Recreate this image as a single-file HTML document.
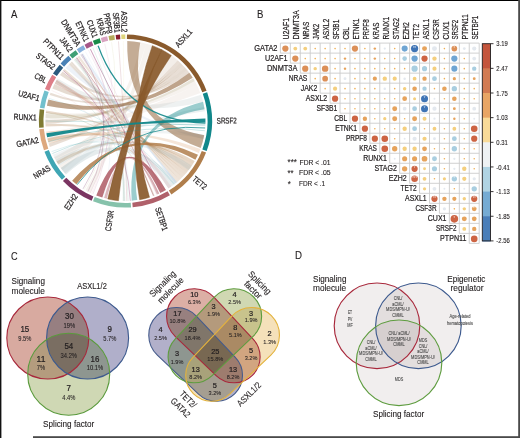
<!DOCTYPE html><html><head><meta charset="utf-8"><style>html,body{margin:0;padding:0;background:#fff;width:520px;height:438px;overflow:hidden}</style></head><body><svg width="520" height="438" viewBox="0 0 520 438" style="display:block">
<rect x="0" y="0" width="520" height="438" fill="#ffffff"/>
<g font-family="&quot;Liberation Sans&quot;, sans-serif">
<text transform="translate(11.00,17.50)" x="0.00" y="0" font-size="11.6" textLength="6.40" lengthAdjust="spacingAndGlyphs" fill="#231f20" stroke="#231f20" stroke-width="0.12" >A</text>
<text transform="translate(256.90,17.80)" x="0.00" y="0" font-size="11.6" textLength="6.40" lengthAdjust="spacingAndGlyphs" fill="#231f20" stroke="#231f20" stroke-width="0.12" >B</text>
<text transform="translate(10.90,259.80)" x="0.00" y="0" font-size="11.6" textLength="6.60" lengthAdjust="spacingAndGlyphs" fill="#231f20" stroke="#231f20" stroke-width="0.12" >C</text>
<text transform="translate(295.00,259.40)" x="0.00" y="0" font-size="11.6" textLength="7.00" lengthAdjust="spacingAndGlyphs" fill="#231f20" stroke="#231f20" stroke-width="0.12" >D</text>
<path d="M140.71,42.47 A80.0,80.0 0 0 1 146.16,43.73 Q125.45,121.00 62.41,170.25 A80.0,80.0 0 0 1 59.13,165.74 Q125.45,121.00 140.71,42.47 Z" fill="#8A5A2C" fill-opacity="0.08"/>
<path d="M146.16,43.73 A80.0,80.0 0 0 1 151.89,45.50 Q125.45,121.00 90.38,192.90 A80.0,80.0 0 0 1 85.45,190.28 Q125.45,121.00 146.16,43.73 Z" fill="#8A5A2C" fill-opacity="0.08"/>
<path d="M171.91,55.87 A80.0,80.0 0 0 1 177.41,60.17 Q125.45,121.00 57.61,163.39 A80.0,80.0 0 0 1 54.17,157.32 Q125.45,121.00 171.91,55.87 Z" fill="#8A5A2C" fill-opacity="0.1"/>
<path d="M177.62,60.35 A80.0,80.0 0 0 1 180.01,62.49 Q125.45,121.00 49.81,147.05 A80.0,80.0 0 0 1 48.74,143.72 Q125.45,121.00 177.62,60.35 Z" fill="#8A5A2C" fill-opacity="0.2"/>
<path d="M180.01,62.49 A80.0,80.0 0 0 1 182.51,64.93 Q125.45,121.00 45.50,123.79 A80.0,80.0 0 0 1 45.46,119.60 Q125.45,121.00 180.01,62.49 Z" fill="#8A5A2C" fill-opacity="0.22"/>
<path d="M182.51,64.93 A80.0,80.0 0 0 1 184.90,67.47 Q125.45,121.00 49.81,94.95 A80.0,80.0 0 0 1 50.57,92.85 Q125.45,121.00 182.51,64.93 Z" fill="#8A5A2C" fill-opacity="0.2"/>
<path d="M184.90,67.47 A80.0,80.0 0 0 1 187.18,70.11 Q125.45,121.00 52.37,88.46 A80.0,80.0 0 0 1 54.49,84.06 Q125.45,121.00 184.90,67.47 Z" fill="#8A5A2C" fill-opacity="0.22"/>
<path d="M187.18,70.11 A80.0,80.0 0 0 1 189.34,72.85 Q125.45,121.00 59.92,75.11 A80.0,80.0 0 0 1 62.41,71.75 Q125.45,121.00 187.18,70.11 Z" fill="#8A5A2C" fill-opacity="0.2"/>
<path d="M193.07,78.25 A80.0,80.0 0 0 1 196.73,84.68 Q125.45,121.00 45.50,118.21 A80.0,80.0 0 0 1 45.96,111.94 Q125.45,121.00 193.07,78.25 Z" fill="#8A5A2C" fill-opacity="0.08"/>
<path d="M196.73,84.68 A80.0,80.0 0 0 1 200.38,92.98 Q125.45,121.00 47.83,140.35 A80.0,80.0 0 0 1 46.23,132.13 Q125.45,121.00 196.73,84.68 Z" fill="#8A5A2C" fill-opacity="0.07"/>
<path d="M194.73,161.00 A80.0,80.0 0 0 1 192.92,163.98 Q125.45,121.00 58.36,164.57 A80.0,80.0 0 0 1 56.52,161.60 Q125.45,121.00 194.73,161.00 Z" fill="#B07E4C" fill-opacity="0.32"/>
<path d="M192.92,163.98 A80.0,80.0 0 0 1 190.98,166.89 Q125.45,121.00 48.18,141.71 A80.0,80.0 0 0 1 47.35,138.32 Q125.45,121.00 192.92,163.98 Z" fill="#B07E4C" fill-opacity="0.3"/>
<path d="M190.98,166.89 A80.0,80.0 0 0 1 188.92,169.70 Q125.45,121.00 45.64,126.58 A80.0,80.0 0 0 1 45.50,123.79 Q125.45,121.00 190.98,166.89 Z" fill="#B07E4C" fill-opacity="0.3"/>
<path d="M188.92,169.70 A80.0,80.0 0 0 1 186.73,172.42 Q125.45,121.00 45.89,112.64 A80.0,80.0 0 0 1 46.15,110.42 Q125.45,121.00 188.92,169.70 Z" fill="#B07E4C" fill-opacity="0.28"/>
<path d="M186.73,172.42 A80.0,80.0 0 0 1 184.43,175.05 Q125.45,121.00 54.81,83.44 A80.0,80.0 0 0 1 56.88,79.80 Q125.45,121.00 186.73,172.42 Z" fill="#B07E4C" fill-opacity="0.26"/>
<path d="M184.43,175.05 A80.0,80.0 0 0 1 182.02,177.57 Q125.45,121.00 63.28,70.65 A80.0,80.0 0 0 1 64.62,69.04 Q125.45,121.00 184.43,175.05 Z" fill="#B07E4C" fill-opacity="0.24"/>
<path d="M182.02,177.57 A80.0,80.0 0 0 1 179.50,179.98 Q125.45,121.00 68.88,64.43 A80.0,80.0 0 0 1 71.92,61.55 Q125.45,121.00 182.02,177.57 Z" fill="#B07E4C" fill-opacity="0.22"/>
<path d="M179.50,179.98 A80.0,80.0 0 0 1 176.87,182.28 Q125.45,121.00 77.30,57.11 A80.0,80.0 0 0 1 79.34,55.63 Q125.45,121.00 179.50,179.98 Z" fill="#B07E4C" fill-opacity="0.2"/>
<path d="M176.87,182.28 A80.0,80.0 0 0 1 168.43,188.47 Q125.45,121.00 66.00,174.53 A80.0,80.0 0 0 1 60.73,168.02 Q125.45,121.00 176.87,182.28 Z" fill="#b8c8cc" fill-opacity="0.35"/>
<path d="M59.13,165.74 A80.0,80.0 0 0 1 55.48,159.78 Q125.45,121.00 191.77,165.74 A80.0,80.0 0 0 1 188.49,170.25 Q125.45,121.00 59.13,165.74 Z" fill="#9fb9bf" fill-opacity="0.22"/>
<path d="M65.07,173.48 A80.0,80.0 0 0 1 60.73,168.02 Q125.45,121.00 204.23,107.11 A80.0,80.0 0 0 1 204.85,111.25 Q125.45,121.00 65.07,173.48 Z" fill="#9fb9bf" fill-opacity="0.2"/>
<path d="M55.14,159.17 A80.0,80.0 0 0 1 52.95,154.81 Q125.45,121.00 204.23,134.89 A80.0,80.0 0 0 1 203.40,139.00 Q125.45,121.00 55.14,159.17 Z" fill="#b5c3c6" fill-opacity="0.2"/>
<path d="M201.00,94.69 A80.0,80.0 0 0 1 203.07,101.65 Q125.45,121.00 54.81,83.44 A80.0,80.0 0 0 1 57.61,78.61 Q125.45,121.00 201.00,94.69 Z" fill="#aab8bb" fill-opacity="0.2"/>
<path d="M48.74,143.72 A80.0,80.0 0 0 1 47.50,139.00 Q125.45,121.00 200.38,149.02 A80.0,80.0 0 0 1 198.81,152.90 Q125.45,121.00 48.74,143.72 Z" fill="#DDA87E" fill-opacity="0.3"/>
<path d="M45.50,118.21 A80.0,80.0 0 0 1 45.75,114.03 Q125.45,121.00 193.29,78.61 A80.0,80.0 0 0 1 194.73,81.00 Q125.45,121.00 45.50,118.21 Z" fill="#7F7B33" fill-opacity="0.12"/>
<path d="M54.49,84.06 A80.0,80.0 0 0 1 56.88,79.80 Q125.45,121.00 171.34,186.53 A80.0,80.0 0 0 1 168.43,188.47 Q125.45,121.00 54.49,84.06 Z" fill="#DE7E88" fill-opacity="0.15"/>
<path d="M65.53,67.99 A80.0,80.0 0 0 1 68.88,64.43 Q125.45,121.00 204.23,134.89 A80.0,80.0 0 0 1 203.40,139.00 Q125.45,121.00 65.53,67.99 Z" fill="#4A82B6" fill-opacity="0.1"/>
<path d="M73.71,59.99 A80.0,80.0 0 0 1 76.20,57.96 Q125.45,121.00 125.45,201.00 A80.0,80.0 0 0 1 122.66,200.95 Q125.45,121.00 73.71,59.99 Z" fill="#3F9F76" fill-opacity="0.12"/>
<path d="M80.48,54.83 A80.0,80.0 0 0 1 83.06,53.16 Q125.45,121.00 176.87,182.28 A80.0,80.0 0 0 1 175.25,183.61 Q125.45,121.00 80.48,54.83 Z" fill="#86B0DC" fill-opacity="0.2"/>
<path d="M76.75,57.53 Q125.45,121.00 153.47,195.93" fill="none" stroke="#B0606A" stroke-opacity="0.6" stroke-width="0.8"/>
<path d="M90.38,49.10 Q125.45,121.00 163.01,191.64" fill="none" stroke="#A65788" stroke-opacity="0.6" stroke-width="0.8"/>
<path d="M63.28,70.65 Q125.45,121.00 130.33,200.85" fill="none" stroke="#A65788" stroke-opacity="0.5" stroke-width="0.8"/>
<path d="M88.51,50.04 Q125.45,121.00 124.05,200.99" fill="none" stroke="#A65788" stroke-opacity="0.15" stroke-width="0.7"/>
<path d="M56.17,81.00 Q125.45,121.00 165.45,190.28" fill="none" stroke="#DE7E88" stroke-opacity="0.2" stroke-width="0.7"/>
<path d="M51.54,90.39 Q125.45,121.00 91.64,193.50" fill="none" stroke="#DE7E88" stroke-opacity="0.15" stroke-width="0.7"/>
<path d="M69.88,63.45 Q125.45,121.00 176.87,182.28" fill="none" stroke="#4A82B6" stroke-opacity="0.12" stroke-width="0.7"/>
<path d="M71.40,62.02 Q125.45,121.00 103.40,197.90" fill="none" stroke="#4A82B6" stroke-opacity="0.1" stroke-width="0.7"/>
<path d="M104.74,43.73 Q125.45,121.00 90.38,192.90" fill="none" stroke="#D9A3C1" stroke-opacity="0.3" stroke-width="0.7"/>
<path d="M111.56,42.22 Q125.45,121.00 84.25,189.57" fill="none" stroke="#B5AD5C" stroke-opacity="0.15" stroke-width="0.7"/>
<path d="M118.48,41.30 Q125.45,121.00 126.85,200.99" fill="none" stroke="#8A1F2F" stroke-opacity="0.2" stroke-width="0.7"/>
<path d="M123.36,41.03 Q125.45,121.00 115.70,200.40" fill="none" stroke="#DED57C" stroke-opacity="0.15" stroke-width="0.7"/>
<path d="M46.23,132.13 Q125.45,121.00 164.84,190.63" fill="none" stroke="#DDA87E" stroke-opacity="0.5" stroke-width="0.8"/>
<path d="M45.89,112.64 Q125.45,121.00 154.12,195.69" fill="none" stroke="#7F7B33" stroke-opacity="0.25" stroke-width="0.7"/>
<path d="M48.74,98.28 Q125.45,121.00 174.70,184.04" fill="none" stroke="#72C0CD" stroke-opacity="0.3" stroke-width="0.7"/>
<path d="M51.54,151.61 Q125.45,121.00 174.15,184.47" fill="none" stroke="#3FA6B4" stroke-opacity="0.25" stroke-width="0.7"/>
<path d="M92.91,194.08 Q125.45,121.00 90.38,49.10" fill="none" stroke="#A65788" stroke-opacity="0.2" stroke-width="0.7"/>
<path d="M87.89,191.64 Q125.45,121.00 76.20,57.96" fill="none" stroke="#7B3562" stroke-opacity="0.35" stroke-width="0.7"/>
<path d="M83.06,188.84 Q125.45,121.00 81.88,53.91" fill="none" stroke="#7B3562" stroke-opacity="0.35" stroke-width="0.7"/>
<path d="M128.24,200.95 Q125.45,121.00 92.91,47.92" fill="none" stroke="#86C2AB" stroke-opacity="0.3" stroke-width="0.7"/>
<path d="M124.05,200.99 Q125.45,121.00 56.17,81.00" fill="none" stroke="#86C2AB" stroke-opacity="0.25" stroke-width="0.7"/>
<path d="M158.63,193.80 Q125.45,121.00 80.71,54.68" fill="none" stroke="#B0606A" stroke-opacity="0.3" stroke-width="0.7"/>
<path d="M156.71,194.64 Q125.45,121.00 75.10,58.83" fill="none" stroke="#B0606A" stroke-opacity="0.2" stroke-width="0.7"/>
<path d="M154.12,195.69 Q125.45,121.00 62.41,71.75" fill="none" stroke="#B0606A" stroke-opacity="0.2" stroke-width="0.7"/>
<path d="M85.45,51.72 Q125.45,121.00 131.03,200.81" fill="none" stroke="#86B0DC" stroke-opacity="0.1" stroke-width="0.7"/>
<path d="M96.13,46.57 Q125.45,121.00 165.45,190.28" fill="none" stroke="#A65788" stroke-opacity="0.15" stroke-width="0.7"/>
<path d="M203.07,101.65 A80.0,80.0 0 0 1 204.57,109.18 Q125.45,121.00 137.27,200.12 A80.0,80.0 0 0 1 131.73,200.75 Q125.45,121.00 203.07,101.65 Z" fill="#11878A" fill-opacity="0.42"/>
<path d="M127.26,41.02 A80.0,80.0 0 0 1 140.30,42.39 Q125.45,121.00 204.19,135.17 A80.0,80.0 0 0 1 200.72,148.10 Q125.45,121.00 127.26,41.02 Z" fill="#8A5A2C" fill-opacity="0.5"/>
<path d="M189.34,72.85 A80.0,80.0 0 0 1 192.70,77.66 Q125.45,121.00 46.92,105.74 A80.0,80.0 0 0 1 48.36,99.62 Q125.45,121.00 189.34,72.85 Z" fill="#8A5A2C" fill-opacity="0.55"/>
<path d="M76.42,184.21 A80.0,80.0 0 0 1 72.13,180.64 Q125.45,121.00 197.95,154.81 A80.0,80.0 0 0 1 195.42,159.78 Q125.45,121.00 76.42,184.21 Z" fill="#B07E4C" fill-opacity="0.85"/>
<path d="M165.93,190.00 A80.0,80.0 0 0 1 160.27,193.03 Q125.45,121.00 102.33,197.59 A80.0,80.0 0 0 1 96.26,195.48 Q125.45,121.00 165.93,190.00 Z" fill="#B0606A" fill-opacity="0.88"/>
<path d="M159.26,193.50 A80.0,80.0 0 0 1 156.97,194.53 Q125.45,121.00 106.77,198.79 A80.0,80.0 0 0 1 104.07,198.09 Q125.45,121.00 159.26,193.50 Z" fill="#B0606A" fill-opacity="0.45"/>
<path d="M98.09,45.82 Q125.45,121.00 205.42,123.09" fill="none" stroke="#11878A" stroke-opacity="0.9" stroke-width="1.25"/>
<path d="M152.29,45.64 A80.0,80.0 0 0 1 162.02,49.85 Q125.45,121.00 149.51,197.30 A80.0,80.0 0 0 1 139.62,199.74 Q125.45,121.00 152.29,45.64 Z" fill="#8A5A2C" fill-opacity="0.93" stroke="#83562B" stroke-width="0.5" stroke-opacity="0.9"/>
<path d="M161.77,49.72 A80.0,80.0 0 0 1 171.34,55.47 Q125.45,121.00 118.48,200.70 A80.0,80.0 0 0 1 107.73,199.01 Q125.45,121.00 161.77,49.72 Z" fill="#8A5A2C" fill-opacity="0.93" stroke="#83562B" stroke-width="0.5" stroke-opacity="0.9"/>
<path d="M47.14,137.36 A80.0,80.0 0 0 1 46.39,133.24 Q125.45,121.00 205.41,118.49 A80.0,80.0 0 0 1 205.44,122.40 Q125.45,121.00 47.14,137.36 Z" fill="#11878A" fill-opacity="0.95"/>
<path d="M52.37,153.54 Q125.45,121.00 204.85,130.75" fill="none" stroke="#11878A" stroke-opacity="0.3" stroke-width="0.7"/>
<path d="M77.08,184.72 Q125.45,121.00 205.15,127.97" fill="none" stroke="#11878A" stroke-opacity="0.85" stroke-width="0.9"/>
<path d="M205.37,124.49 Q125.45,121.00 48.18,141.71" fill="none" stroke="#11878A" stroke-opacity="0.35" stroke-width="0.6"/>
<path d="M205.32,125.61 Q125.45,121.00 45.45,121.00" fill="none" stroke="#11878A" stroke-opacity="0.3" stroke-width="0.6"/>
<path d="M126.96,34.41 A86.6,86.6 0 0 1 206.57,90.67 L202.26,92.28 A82.0,82.0 0 0 0 126.88,39.01 Z" fill="#8A5A2C"/>
<path d="M207.13,92.23 A86.6,86.6 0 0 1 206.67,151.04 L202.36,149.45 A82.0,82.0 0 0 0 202.79,93.76 Z" fill="#11878A"/>
<path d="M206.08,152.60 A86.6,86.6 0 0 1 171.34,194.44 L168.90,190.54 A82.0,82.0 0 0 0 201.80,150.92 Z" fill="#B07E4C"/>
<path d="M169.92,195.31 A86.6,86.6 0 0 1 132.70,207.30 L132.31,202.71 A82.0,82.0 0 0 0 167.56,191.36 Z" fill="#B0606A"/>
<path d="M131.04,207.42 A86.6,86.6 0 0 1 93.01,201.29 L94.73,197.03 A82.0,82.0 0 0 0 130.74,202.83 Z" fill="#86C2AB"/>
<path d="M91.61,200.72 A86.6,86.6 0 0 1 62.95,180.94 L66.27,177.76 A82.0,82.0 0 0 0 93.41,196.48 Z" fill="#7B3562"/>
<path d="M61.91,179.84 A86.6,86.6 0 0 1 44.49,151.75 L48.79,150.12 A82.0,82.0 0 0 0 65.28,176.71 Z" fill="#3FA6B4"/>
<path d="M43.97,150.33 A86.6,86.6 0 0 1 39.23,129.15 L43.81,128.72 A82.0,82.0 0 0 0 48.30,148.78 Z" fill="#DDA87E"/>
<path d="M39.12,127.79 A86.6,86.6 0 0 1 39.65,109.25 L44.21,109.87 A82.0,82.0 0 0 0 43.70,127.43 Z" fill="#7F7B33"/>
<path d="M39.87,107.75 A86.6,86.6 0 0 1 44.44,90.39 L48.74,92.02 A82.0,82.0 0 0 0 44.42,108.46 Z" fill="#72C0CD"/>
<path d="M44.99,88.98 A86.6,86.6 0 0 1 52.25,74.73 L56.14,77.18 A82.0,82.0 0 0 0 49.26,90.68 Z" fill="#DE7E88"/>
<path d="M52.99,73.58 A86.6,86.6 0 0 1 59.70,64.64 L63.19,67.64 A82.0,82.0 0 0 0 56.84,76.10 Z" fill="#2B5A7E"/>
<path d="M60.59,63.62 A86.6,86.6 0 0 1 68.41,55.84 L71.44,59.30 A82.0,82.0 0 0 0 64.04,66.67 Z" fill="#4A82B6"/>
<path d="M69.44,54.95 A86.6,86.6 0 0 1 75.65,50.15 L78.30,53.91 A82.0,82.0 0 0 0 72.41,58.46 Z" fill="#3F9F76"/>
<path d="M76.77,49.37 A86.6,86.6 0 0 1 83.33,45.33 L85.57,49.35 A82.0,82.0 0 0 0 79.36,53.18 Z" fill="#86B0DC"/>
<path d="M84.53,44.68 A86.6,86.6 0 0 1 91.61,41.28 L93.41,45.52 A82.0,82.0 0 0 0 86.70,48.73 Z" fill="#A65788"/>
<path d="M92.87,40.76 A86.6,86.6 0 0 1 99.70,38.32 L101.07,42.71 A82.0,82.0 0 0 0 94.60,45.02 Z" fill="#1A8A48"/>
<path d="M100.85,37.97 A86.6,86.6 0 0 1 107.15,36.36 L108.12,40.85 A82.0,82.0 0 0 0 102.16,42.38 Z" fill="#D9A3C1"/>
<path d="M108.48,36.08 A86.6,86.6 0 0 1 114.30,35.12 L114.89,39.68 A82.0,82.0 0 0 0 109.38,40.59 Z" fill="#B5AD5C"/>
<path d="M115.65,34.96 A86.6,86.6 0 0 1 120.01,34.57 L120.30,39.16 A82.0,82.0 0 0 0 116.17,39.53 Z" fill="#8A1F2F"/>
<path d="M121.22,34.50 A86.6,86.6 0 0 1 125.30,34.40 L125.31,39.00 A82.0,82.0 0 0 0 121.44,39.10 Z" fill="#DED57C"/>
<text transform="translate(178.81,47.96) rotate(-48.25)" x="0.00" y="0" font-size="8.4" textLength="21.02" lengthAdjust="spacingAndGlyphs" fill="#231f20" stroke="#231f20" stroke-width="0.24" >ASXL1</text>
<text transform="translate(216.76,123.63) rotate(-0.25)" x="0.00" y="0" font-size="8.4" textLength="19.94" lengthAdjust="spacingAndGlyphs" fill="#231f20" stroke="#231f20" stroke-width="0.24" >SRSF2</text>
<text transform="translate(191.84,180.05) rotate(39.70)" x="0.00" y="0" font-size="8.4" textLength="15.79" lengthAdjust="spacingAndGlyphs" fill="#231f20" stroke="#231f20" stroke-width="0.24" >TET2</text>
<text transform="translate(154.98,208.39) rotate(71.45)" x="0.00" y="0" font-size="8.4" textLength="24.25" lengthAdjust="spacingAndGlyphs" fill="#231f20" stroke="#231f20" stroke-width="0.24" >SETBP1</text>
<text transform="translate(114.00,211.13) rotate(-80.85)" x="-20.63" y="0" font-size="8.4" textLength="20.63" lengthAdjust="spacingAndGlyphs" fill="#231f20" stroke="#231f20" stroke-width="0.24" >CSF3R</text>
<text transform="translate(78.17,196.23) rotate(-55.90)" x="-17.46" y="0" font-size="8.4" textLength="17.46" lengthAdjust="spacingAndGlyphs" fill="#231f20" stroke="#231f20" stroke-width="0.24" >EZH2</text>
<text transform="translate(51.15,169.72) rotate(-31.30)" x="-18.18" y="0" font-size="8.4" textLength="18.18" lengthAdjust="spacingAndGlyphs" fill="#231f20" stroke="#231f20" stroke-width="0.24" >NRAS</text>
<text transform="translate(39.26,142.57) rotate(-12.10)" x="-22.75" y="0" font-size="8.4" textLength="22.75" lengthAdjust="spacingAndGlyphs" fill="#231f20" stroke="#231f20" stroke-width="0.24" >GATA2</text>
<text transform="translate(36.60,120.46) rotate(2.30)" x="-23.12" y="0" font-size="8.4" textLength="23.12" lengthAdjust="spacingAndGlyphs" fill="#231f20" stroke="#231f20" stroke-width="0.24" >RUNX1</text>
<text transform="translate(38.81,101.32) rotate(14.75)" x="-21.90" y="0" font-size="8.4" textLength="21.90" lengthAdjust="spacingAndGlyphs" fill="#231f20" stroke="#231f20" stroke-width="0.24" >U2AF1</text>
<text transform="translate(44.96,83.38) rotate(27.00)" x="-12.59" y="0" font-size="8.4" textLength="12.59" lengthAdjust="spacingAndGlyphs" fill="#231f20" stroke="#231f20" stroke-width="0.24" >CBL</text>
<text transform="translate(52.62,70.10) rotate(36.90)" x="-21.81" y="0" font-size="8.4" textLength="21.81" lengthAdjust="spacingAndGlyphs" fill="#231f20" stroke="#231f20" stroke-width="0.24" >STAG2</text>
<text transform="translate(60.68,60.18) rotate(45.15)" x="-25.64" y="0" font-size="8.4" textLength="25.64" lengthAdjust="spacingAndGlyphs" fill="#231f20" stroke="#231f20" stroke-width="0.24" >PTPN11</text>
<text transform="translate(68.75,52.59) rotate(52.30)" x="-16.09" y="0" font-size="8.4" textLength="16.09" lengthAdjust="spacingAndGlyphs" fill="#231f20" stroke="#231f20" stroke-width="0.24" >JAK2</text>
<text transform="translate(76.28,46.99) rotate(58.35)" x="-29.62" y="0" font-size="8.4" textLength="29.62" lengthAdjust="spacingAndGlyphs" fill="#231f20" stroke="#231f20" stroke-width="0.24" >DNMT3A</text>
<text transform="translate(84.35,42.22) rotate(64.40)" x="-21.35" y="0" font-size="8.4" textLength="21.35" lengthAdjust="spacingAndGlyphs" fill="#231f20" stroke="#231f20" stroke-width="0.24" >ETNK1</text>
<text transform="translate(92.67,38.42) rotate(70.30)" x="-18.26" y="0" font-size="8.4" textLength="18.26" lengthAdjust="spacingAndGlyphs" fill="#231f20" stroke="#231f20" stroke-width="0.24" >CUX1</text>
<text transform="translate(100.51,35.72) rotate(75.65)" x="-17.26" y="0" font-size="8.4" textLength="17.26" lengthAdjust="spacingAndGlyphs" fill="#231f20" stroke="#231f20" stroke-width="0.24" >KRAS</text>
<text transform="translate(106.98,34.09) rotate(79.95)" x="-20.56" y="0" font-size="8.4" textLength="20.56" lengthAdjust="spacingAndGlyphs" fill="#231f20" stroke="#231f20" stroke-width="0.24" >PRPF8</text>
<text transform="translate(114.62,32.81) rotate(84.95)" x="-20.13" y="0" font-size="8.4" textLength="20.13" lengthAdjust="spacingAndGlyphs" fill="#231f20" stroke="#231f20" stroke-width="0.24" >SF3B1</text>
<text transform="translate(121.42,32.24) rotate(89.35)" x="-21.02" y="0" font-size="8.4" textLength="21.02" lengthAdjust="spacingAndGlyphs" fill="#231f20" stroke="#231f20" stroke-width="0.24" >ASXL2</text>
<line x1="280.40" y1="43.10" x2="479.20" y2="43.10" stroke="#cccccc" stroke-width="0.9"/>
<line x1="280.40" y1="53.12" x2="479.20" y2="53.12" stroke="#cccccc" stroke-width="0.9"/>
<line x1="290.34" y1="63.13" x2="479.20" y2="63.13" stroke="#cccccc" stroke-width="0.9"/>
<line x1="300.28" y1="73.15" x2="479.20" y2="73.15" stroke="#cccccc" stroke-width="0.9"/>
<line x1="310.22" y1="83.16" x2="479.20" y2="83.16" stroke="#cccccc" stroke-width="0.9"/>
<line x1="320.16" y1="93.18" x2="479.20" y2="93.18" stroke="#cccccc" stroke-width="0.9"/>
<line x1="330.10" y1="103.19" x2="479.20" y2="103.19" stroke="#cccccc" stroke-width="0.9"/>
<line x1="340.04" y1="113.21" x2="479.20" y2="113.21" stroke="#cccccc" stroke-width="0.9"/>
<line x1="349.98" y1="123.22" x2="479.20" y2="123.22" stroke="#cccccc" stroke-width="0.9"/>
<line x1="359.92" y1="133.24" x2="479.20" y2="133.24" stroke="#cccccc" stroke-width="0.9"/>
<line x1="369.86" y1="143.25" x2="479.20" y2="143.25" stroke="#cccccc" stroke-width="0.9"/>
<line x1="379.80" y1="153.27" x2="479.20" y2="153.27" stroke="#cccccc" stroke-width="0.9"/>
<line x1="389.74" y1="163.28" x2="479.20" y2="163.28" stroke="#cccccc" stroke-width="0.9"/>
<line x1="399.68" y1="173.29" x2="479.20" y2="173.29" stroke="#cccccc" stroke-width="0.9"/>
<line x1="409.62" y1="183.31" x2="479.20" y2="183.31" stroke="#cccccc" stroke-width="0.9"/>
<line x1="419.56" y1="193.33" x2="479.20" y2="193.33" stroke="#cccccc" stroke-width="0.9"/>
<line x1="429.50" y1="203.34" x2="479.20" y2="203.34" stroke="#cccccc" stroke-width="0.9"/>
<line x1="439.44" y1="213.35" x2="479.20" y2="213.35" stroke="#cccccc" stroke-width="0.9"/>
<line x1="449.38" y1="223.37" x2="479.20" y2="223.37" stroke="#cccccc" stroke-width="0.9"/>
<line x1="459.32" y1="233.39" x2="479.20" y2="233.39" stroke="#cccccc" stroke-width="0.9"/>
<line x1="469.26" y1="243.40" x2="479.20" y2="243.40" stroke="#cccccc" stroke-width="0.9"/>
<line x1="280.40" y1="43.10" x2="280.40" y2="53.12" stroke="#cccccc" stroke-width="0.9"/>
<line x1="290.34" y1="43.10" x2="290.34" y2="63.13" stroke="#cccccc" stroke-width="0.9"/>
<line x1="300.28" y1="43.10" x2="300.28" y2="73.15" stroke="#cccccc" stroke-width="0.9"/>
<line x1="310.22" y1="43.10" x2="310.22" y2="83.16" stroke="#cccccc" stroke-width="0.9"/>
<line x1="320.16" y1="43.10" x2="320.16" y2="93.18" stroke="#cccccc" stroke-width="0.9"/>
<line x1="330.10" y1="43.10" x2="330.10" y2="103.19" stroke="#cccccc" stroke-width="0.9"/>
<line x1="340.04" y1="43.10" x2="340.04" y2="113.21" stroke="#cccccc" stroke-width="0.9"/>
<line x1="349.98" y1="43.10" x2="349.98" y2="123.22" stroke="#cccccc" stroke-width="0.9"/>
<line x1="359.92" y1="43.10" x2="359.92" y2="133.24" stroke="#cccccc" stroke-width="0.9"/>
<line x1="369.86" y1="43.10" x2="369.86" y2="143.25" stroke="#cccccc" stroke-width="0.9"/>
<line x1="379.80" y1="43.10" x2="379.80" y2="153.27" stroke="#cccccc" stroke-width="0.9"/>
<line x1="389.74" y1="43.10" x2="389.74" y2="163.28" stroke="#cccccc" stroke-width="0.9"/>
<line x1="399.68" y1="43.10" x2="399.68" y2="173.29" stroke="#cccccc" stroke-width="0.9"/>
<line x1="409.62" y1="43.10" x2="409.62" y2="183.31" stroke="#cccccc" stroke-width="0.9"/>
<line x1="419.56" y1="43.10" x2="419.56" y2="193.33" stroke="#cccccc" stroke-width="0.9"/>
<line x1="429.50" y1="43.10" x2="429.50" y2="203.34" stroke="#cccccc" stroke-width="0.9"/>
<line x1="439.44" y1="43.10" x2="439.44" y2="213.35" stroke="#cccccc" stroke-width="0.9"/>
<line x1="449.38" y1="43.10" x2="449.38" y2="223.37" stroke="#cccccc" stroke-width="0.9"/>
<line x1="459.32" y1="43.10" x2="459.32" y2="233.39" stroke="#cccccc" stroke-width="0.9"/>
<line x1="469.26" y1="43.10" x2="469.26" y2="243.40" stroke="#cccccc" stroke-width="0.9"/>
<line x1="479.20" y1="43.10" x2="479.20" y2="243.40" stroke="#cccccc" stroke-width="0.9"/>
<circle cx="285.37" cy="48.61" r="3.13" fill="#DC9058"/>
<circle cx="295.31" cy="48.61" r="1.90" fill="#F4CF7E"/>
<circle cx="305.25" cy="48.61" r="1.90" fill="#F4CF7E"/>
<circle cx="315.19" cy="48.61" r="0.8" fill="#EFB055"/>
<circle cx="325.13" cy="48.61" r="0.8" fill="#EFB055"/>
<circle cx="335.07" cy="48.61" r="0.8" fill="#EFB055"/>
<circle cx="345.01" cy="48.61" r="0.8" fill="#EFB055"/>
<circle cx="354.95" cy="48.61" r="3.13" fill="#DC9058"/>
<circle cx="364.89" cy="48.61" r="0.8" fill="#EFB055"/>
<circle cx="374.83" cy="48.61" r="1.23" fill="#E6A35C"/>
<circle cx="384.77" cy="48.61" r="1.14" fill="#E3E8EE"/>
<circle cx="394.71" cy="48.61" r="0.8" fill="#EFB055"/>
<circle cx="404.65" cy="48.61" r="3.04" fill="#6FA5D3"/>
<circle cx="414.59" cy="48.61" r="3.61" fill="#3F74B5"/>
<circle cx="424.53" cy="48.61" r="2.47" fill="#E6A35C"/>
<circle cx="434.47" cy="48.61" r="2.47" fill="#E3E8EE"/>
<circle cx="444.41" cy="48.61" r="0.8" fill="#EFB055"/>
<circle cx="454.35" cy="48.61" r="2.85" fill="#DC9058"/>
<circle cx="464.29" cy="48.61" r="1.42" fill="#E3E8EE"/>
<circle cx="474.23" cy="48.61" r="2.09" fill="#E3E8EE"/>
<circle cx="295.31" cy="58.62" r="3.13" fill="#DC9058"/>
<circle cx="305.25" cy="58.62" r="0.8" fill="#EFB055"/>
<circle cx="315.19" cy="58.62" r="0.8" fill="#EFB055"/>
<circle cx="325.13" cy="58.62" r="0.8" fill="#EFB055"/>
<circle cx="335.07" cy="58.62" r="0.8" fill="#EFB055"/>
<circle cx="345.01" cy="58.62" r="1.23" fill="#E6A35C"/>
<circle cx="354.95" cy="58.62" r="0.8" fill="#EFB055"/>
<circle cx="364.89" cy="58.62" r="0.8" fill="#EFB055"/>
<circle cx="374.83" cy="58.62" r="1.23" fill="#E6A35C"/>
<circle cx="384.77" cy="58.62" r="0.8" fill="#EFB055"/>
<circle cx="394.71" cy="58.62" r="0.8" fill="#EFB055"/>
<circle cx="404.65" cy="58.62" r="2.28" fill="#A9CEE0"/>
<circle cx="414.59" cy="58.62" r="3.13" fill="#6FA5D3"/>
<circle cx="424.53" cy="58.62" r="3.13" fill="#CD6443"/>
<circle cx="434.47" cy="58.62" r="2.18" fill="#F4CF7E"/>
<circle cx="444.41" cy="58.62" r="0.8" fill="#EFB055"/>
<circle cx="454.35" cy="58.62" r="3.13" fill="#6FA5D3"/>
<circle cx="464.29" cy="58.62" r="0.8" fill="#EFB055"/>
<circle cx="474.23" cy="58.62" r="1.90" fill="#E3E8EE"/>
<circle cx="305.25" cy="68.64" r="3.13" fill="#DC9058"/>
<circle cx="315.19" cy="68.64" r="1.71" fill="#F4CF7E"/>
<circle cx="325.13" cy="68.64" r="3.23" fill="#DC9058"/>
<circle cx="335.07" cy="68.64" r="0.8" fill="#EFB055"/>
<circle cx="345.01" cy="68.64" r="1.23" fill="#E6A35C"/>
<circle cx="354.95" cy="68.64" r="0.8" fill="#EFB055"/>
<circle cx="364.89" cy="68.64" r="0.8" fill="#EFB055"/>
<circle cx="374.83" cy="68.64" r="0.8" fill="#EFB055"/>
<circle cx="384.77" cy="68.64" r="0.8" fill="#EFB055"/>
<circle cx="394.71" cy="68.64" r="0.8" fill="#EFB055"/>
<circle cx="404.65" cy="68.64" r="0.8" fill="#EFB055"/>
<circle cx="414.59" cy="68.64" r="3.13" fill="#A9CEE0"/>
<circle cx="424.53" cy="68.64" r="2.56" fill="#A9CEE0"/>
<circle cx="434.47" cy="68.64" r="2.09" fill="#F4CF7E"/>
<circle cx="444.41" cy="68.64" r="0.8" fill="#EFB055"/>
<circle cx="454.35" cy="68.64" r="3.04" fill="#6FA5D3"/>
<circle cx="464.29" cy="68.64" r="0.8" fill="#EFB055"/>
<circle cx="474.23" cy="68.64" r="2.18" fill="#A9CEE0"/>
<circle cx="315.19" cy="78.65" r="0.8" fill="#EFB055"/>
<circle cx="325.13" cy="78.65" r="2.85" fill="#DC9058"/>
<circle cx="335.07" cy="78.65" r="0.8" fill="#EFB055"/>
<circle cx="345.01" cy="78.65" r="1.42" fill="#E3E8EE"/>
<circle cx="354.95" cy="78.65" r="0.8" fill="#EFB055"/>
<circle cx="364.89" cy="78.65" r="0.8" fill="#EFB055"/>
<circle cx="374.83" cy="78.65" r="2.09" fill="#E6A35C"/>
<circle cx="384.77" cy="78.65" r="2.18" fill="#F4CF7E"/>
<circle cx="394.71" cy="78.65" r="2.09" fill="#F4CF7E"/>
<circle cx="404.65" cy="78.65" r="1.23" fill="#E3E8EE"/>
<circle cx="414.59" cy="78.65" r="1.90" fill="#F4CF7E"/>
<circle cx="424.53" cy="78.65" r="2.18" fill="#E6A35C"/>
<circle cx="434.47" cy="78.65" r="2.38" fill="#A9CEE0"/>
<circle cx="444.41" cy="78.65" r="0.8" fill="#EFB055"/>
<circle cx="454.35" cy="78.65" r="1.61" fill="#E6A35C"/>
<circle cx="464.29" cy="78.65" r="0.8" fill="#EFB055"/>
<circle cx="474.23" cy="78.65" r="1.42" fill="#E6A35C"/>
<circle cx="325.13" cy="88.67" r="0.8" fill="#EFB055"/>
<circle cx="335.07" cy="88.67" r="2.09" fill="#F4CF7E"/>
<circle cx="345.01" cy="88.67" r="0.8" fill="#EFB055"/>
<circle cx="354.95" cy="88.67" r="0.8" fill="#EFB055"/>
<circle cx="364.89" cy="88.67" r="0.8" fill="#EFB055"/>
<circle cx="374.83" cy="88.67" r="0.8" fill="#EFB055"/>
<circle cx="384.77" cy="88.67" r="1.23" fill="#E3E8EE"/>
<circle cx="394.71" cy="88.67" r="0.8" fill="#EFB055"/>
<circle cx="404.65" cy="88.67" r="1.71" fill="#F4CF7E"/>
<circle cx="414.59" cy="88.67" r="2.28" fill="#E6A35C"/>
<circle cx="424.53" cy="88.67" r="2.18" fill="#A9CEE0"/>
<circle cx="434.47" cy="88.67" r="0.8" fill="#EFB055"/>
<circle cx="444.41" cy="88.67" r="2.28" fill="#E6A35C"/>
<circle cx="454.35" cy="88.67" r="2.66" fill="#A9CEE0"/>
<circle cx="464.29" cy="88.67" r="0.8" fill="#EFB055"/>
<circle cx="474.23" cy="88.67" r="0.8" fill="#EFB055"/>
<circle cx="335.07" cy="98.68" r="3.13" fill="#CD6443"/>
<circle cx="345.01" cy="98.68" r="0.8" fill="#EFB055"/>
<circle cx="354.95" cy="98.68" r="0.8" fill="#EFB055"/>
<circle cx="364.89" cy="98.68" r="0.8" fill="#EFB055"/>
<circle cx="374.83" cy="98.68" r="0.8" fill="#EFB055"/>
<circle cx="384.77" cy="98.68" r="0.8" fill="#EFB055"/>
<circle cx="394.71" cy="98.68" r="0.8" fill="#EFB055"/>
<circle cx="404.65" cy="98.68" r="2.38" fill="#E6A35C"/>
<circle cx="414.59" cy="98.68" r="1.52" fill="#F4CF7E"/>
<circle cx="424.53" cy="98.68" r="3.52" fill="#3F74B5"/>
<circle cx="434.47" cy="98.68" r="0.95" fill="#E3E8EE"/>
<circle cx="444.41" cy="98.68" r="0.8" fill="#EFB055"/>
<circle cx="454.35" cy="98.68" r="2.28" fill="#E6A35C"/>
<circle cx="464.29" cy="98.68" r="0.8" fill="#EFB055"/>
<circle cx="474.23" cy="98.68" r="0.8" fill="#EFB055"/>
<circle cx="345.01" cy="108.70" r="0.8" fill="#EFB055"/>
<circle cx="354.95" cy="108.70" r="0.8" fill="#EFB055"/>
<circle cx="364.89" cy="108.70" r="0.8" fill="#EFB055"/>
<circle cx="374.83" cy="108.70" r="0.8" fill="#EFB055"/>
<circle cx="384.77" cy="108.70" r="0.8" fill="#EFB055"/>
<circle cx="394.71" cy="108.70" r="2.47" fill="#E6A35C"/>
<circle cx="404.65" cy="108.70" r="1.90" fill="#E3E8EE"/>
<circle cx="414.59" cy="108.70" r="2.38" fill="#A9CEE0"/>
<circle cx="424.53" cy="108.70" r="3.52" fill="#3F74B5"/>
<circle cx="434.47" cy="108.70" r="2.09" fill="#E3E8EE"/>
<circle cx="444.41" cy="108.70" r="0.8" fill="#EFB055"/>
<circle cx="454.35" cy="108.70" r="1.42" fill="#E6A35C"/>
<circle cx="464.29" cy="108.70" r="0.8" fill="#EFB055"/>
<circle cx="474.23" cy="108.70" r="1.90" fill="#E3E8EE"/>
<circle cx="354.95" cy="118.71" r="3.13" fill="#CD6443"/>
<circle cx="364.89" cy="118.71" r="2.18" fill="#E6A35C"/>
<circle cx="374.83" cy="118.71" r="0.8" fill="#EFB055"/>
<circle cx="384.77" cy="118.71" r="1.61" fill="#F4CF7E"/>
<circle cx="394.71" cy="118.71" r="2.47" fill="#E6A35C"/>
<circle cx="404.65" cy="118.71" r="0.8" fill="#EFB055"/>
<circle cx="414.59" cy="118.71" r="2.47" fill="#E6A35C"/>
<circle cx="424.53" cy="118.71" r="1.99" fill="#F4CF7E"/>
<circle cx="434.47" cy="118.71" r="1.14" fill="#E3E8EE"/>
<circle cx="444.41" cy="118.71" r="0.8" fill="#EFB055"/>
<circle cx="454.35" cy="118.71" r="1.23" fill="#E6A35C"/>
<circle cx="464.29" cy="118.71" r="0.8" fill="#EFB055"/>
<circle cx="474.23" cy="118.71" r="0.95" fill="#E3E8EE"/>
<circle cx="364.89" cy="128.73" r="3.13" fill="#CD6443"/>
<circle cx="374.83" cy="128.73" r="0.8" fill="#EFB055"/>
<circle cx="384.77" cy="128.73" r="0.8" fill="#EFB055"/>
<circle cx="394.71" cy="128.73" r="0.8" fill="#EFB055"/>
<circle cx="404.65" cy="128.73" r="2.18" fill="#F4CF7E"/>
<circle cx="414.59" cy="128.73" r="2.38" fill="#A9CEE0"/>
<circle cx="424.53" cy="128.73" r="0.8" fill="#EFB055"/>
<circle cx="434.47" cy="128.73" r="1.90" fill="#F4CF7E"/>
<circle cx="444.41" cy="128.73" r="0.8" fill="#EFB055"/>
<circle cx="454.35" cy="128.73" r="1.90" fill="#F4CF7E"/>
<circle cx="464.29" cy="128.73" r="0.8" fill="#EFB055"/>
<circle cx="474.23" cy="128.73" r="3.32" fill="#CD6443"/>
<circle cx="374.83" cy="138.74" r="3.13" fill="#CD6443"/>
<circle cx="384.77" cy="138.74" r="3.32" fill="#CD6443"/>
<circle cx="394.71" cy="138.74" r="0.8" fill="#EFB055"/>
<circle cx="404.65" cy="138.74" r="0.95" fill="#E3E8EE"/>
<circle cx="414.59" cy="138.74" r="2.09" fill="#E3E8EE"/>
<circle cx="424.53" cy="138.74" r="2.09" fill="#F4CF7E"/>
<circle cx="434.47" cy="138.74" r="1.42" fill="#E3E8EE"/>
<circle cx="444.41" cy="138.74" r="0.8" fill="#EFB055"/>
<circle cx="454.35" cy="138.74" r="2.38" fill="#A9CEE0"/>
<circle cx="464.29" cy="138.74" r="0.8" fill="#EFB055"/>
<circle cx="474.23" cy="138.74" r="3.13" fill="#CD6443"/>
<circle cx="384.77" cy="148.76" r="3.32" fill="#CD6443"/>
<circle cx="394.71" cy="148.76" r="2.66" fill="#E6A35C"/>
<circle cx="404.65" cy="148.76" r="2.18" fill="#F4CF7E"/>
<circle cx="414.59" cy="148.76" r="2.18" fill="#F4CF7E"/>
<circle cx="424.53" cy="148.76" r="2.38" fill="#E6A35C"/>
<circle cx="434.47" cy="148.76" r="0.8" fill="#EFB055"/>
<circle cx="444.41" cy="148.76" r="0.8" fill="#EFB055"/>
<circle cx="454.35" cy="148.76" r="2.66" fill="#A9CEE0"/>
<circle cx="464.29" cy="148.76" r="0.8" fill="#EFB055"/>
<circle cx="474.23" cy="148.76" r="0.8" fill="#EFB055"/>
<circle cx="394.71" cy="158.77" r="0.95" fill="#E3E8EE"/>
<circle cx="404.65" cy="158.77" r="2.56" fill="#E6A35C"/>
<circle cx="414.59" cy="158.77" r="2.56" fill="#E6A35C"/>
<circle cx="424.53" cy="158.77" r="2.85" fill="#E6A35C"/>
<circle cx="434.47" cy="158.77" r="2.47" fill="#A9CEE0"/>
<circle cx="444.41" cy="158.77" r="0.8" fill="#EFB055"/>
<circle cx="454.35" cy="158.77" r="1.14" fill="#E3E8EE"/>
<circle cx="464.29" cy="158.77" r="0.8" fill="#EFB055"/>
<circle cx="474.23" cy="158.77" r="0.8" fill="#EFB055"/>
<circle cx="404.65" cy="168.79" r="2.66" fill="#E6A35C"/>
<circle cx="414.59" cy="168.79" r="3.13" fill="#CD6443"/>
<circle cx="424.53" cy="168.79" r="1.42" fill="#F4CF7E"/>
<circle cx="434.47" cy="168.79" r="2.56" fill="#A9CEE0"/>
<circle cx="444.41" cy="168.79" r="0.8" fill="#EFB055"/>
<circle cx="454.35" cy="168.79" r="1.14" fill="#E3E8EE"/>
<circle cx="464.29" cy="168.79" r="2.18" fill="#F4CF7E"/>
<circle cx="474.23" cy="168.79" r="0.8" fill="#EFB055"/>
<circle cx="414.59" cy="178.80" r="3.32" fill="#CD6443"/>
<circle cx="424.53" cy="178.80" r="1.90" fill="#F4CF7E"/>
<circle cx="434.47" cy="178.80" r="0.8" fill="#EFB055"/>
<circle cx="444.41" cy="178.80" r="1.61" fill="#F4CF7E"/>
<circle cx="454.35" cy="178.80" r="2.66" fill="#A9CEE0"/>
<circle cx="464.29" cy="178.80" r="2.09" fill="#F4CF7E"/>
<circle cx="474.23" cy="178.80" r="1.61" fill="#E3E8EE"/>
<circle cx="424.53" cy="188.82" r="1.61" fill="#F4CF7E"/>
<circle cx="434.47" cy="188.82" r="1.90" fill="#E3E8EE"/>
<circle cx="444.41" cy="188.82" r="0.95" fill="#E3E8EE"/>
<circle cx="454.35" cy="188.82" r="0.8" fill="#EFB055"/>
<circle cx="464.29" cy="188.82" r="0.95" fill="#E3E8EE"/>
<circle cx="474.23" cy="188.82" r="2.66" fill="#A9CEE0"/>
<circle cx="434.47" cy="198.83" r="3.13" fill="#CD6443"/>
<circle cx="444.41" cy="198.83" r="2.18" fill="#E6A35C"/>
<circle cx="454.35" cy="198.83" r="2.09" fill="#E6A35C"/>
<circle cx="464.29" cy="198.83" r="1.71" fill="#F4CF7E"/>
<circle cx="474.23" cy="198.83" r="3.13" fill="#CD6443"/>
<circle cx="444.41" cy="208.85" r="1.61" fill="#E3E8EE"/>
<circle cx="454.35" cy="208.85" r="0.8" fill="#EFB055"/>
<circle cx="464.29" cy="208.85" r="1.71" fill="#F4CF7E"/>
<circle cx="474.23" cy="208.85" r="2.38" fill="#E6A35C"/>
<circle cx="454.35" cy="218.86" r="3.80" fill="#CD6443"/>
<circle cx="464.29" cy="218.86" r="2.47" fill="#E6A35C"/>
<circle cx="474.23" cy="218.86" r="2.38" fill="#E6A35C"/>
<circle cx="464.29" cy="228.88" r="1.90" fill="#F4CF7E"/>
<circle cx="474.23" cy="228.88" r="2.18" fill="#E6A35C"/>
<circle cx="474.23" cy="238.89" r="3.32" fill="#CD6443"/>
<text transform="translate(414.59,50.21)" x="-1.60" y="0" font-size="4.6" textLength="3.20" lengthAdjust="spacingAndGlyphs" fill="#ffffff" stroke="#ffffff" stroke-width="0.00" fill-opacity="0.75">**</text>
<text transform="translate(454.35,50.21)" x="-0.80" y="0" font-size="4.6" textLength="1.60" lengthAdjust="spacingAndGlyphs" fill="#ffffff" stroke="#ffffff" stroke-width="0.00" fill-opacity="0.75">*</text>
<text transform="translate(424.53,100.28)" x="-0.80" y="0" font-size="4.6" textLength="1.60" lengthAdjust="spacingAndGlyphs" fill="#ffffff" stroke="#ffffff" stroke-width="0.00" fill-opacity="0.75">*</text>
<text transform="translate(424.53,110.30)" x="-0.80" y="0" font-size="4.6" textLength="1.60" lengthAdjust="spacingAndGlyphs" fill="#ffffff" stroke="#ffffff" stroke-width="0.00" fill-opacity="0.75">*</text>
<text transform="translate(414.59,180.40)" x="-2.40" y="0" font-size="4.6" textLength="4.80" lengthAdjust="spacingAndGlyphs" fill="#ffffff" stroke="#ffffff" stroke-width="0.00" fill-opacity="0.75">***</text>
<text transform="translate(454.35,180.40)" x="-0.80" y="0" font-size="4.6" textLength="1.60" lengthAdjust="spacingAndGlyphs" fill="#ffffff" stroke="#ffffff" stroke-width="0.00" fill-opacity="0.75">*</text>
<text transform="translate(434.47,200.43)" x="-1.60" y="0" font-size="4.6" textLength="3.20" lengthAdjust="spacingAndGlyphs" fill="#ffffff" stroke="#ffffff" stroke-width="0.00" fill-opacity="0.75">**</text>
<text transform="translate(474.23,200.43)" x="-1.60" y="0" font-size="4.6" textLength="3.20" lengthAdjust="spacingAndGlyphs" fill="#ffffff" stroke="#ffffff" stroke-width="0.00" fill-opacity="0.75">**</text>
<text transform="translate(474.23,210.45)" x="-1.60" y="0" font-size="4.6" textLength="3.20" lengthAdjust="spacingAndGlyphs" fill="#ffffff" stroke="#ffffff" stroke-width="0.00" fill-opacity="0.75">**</text>
<text transform="translate(454.35,220.46)" x="-0.80" y="0" font-size="4.6" textLength="1.60" lengthAdjust="spacingAndGlyphs" fill="#ffffff" stroke="#ffffff" stroke-width="0.00" fill-opacity="0.75">*</text>
<text transform="translate(414.59,170.39)" x="-0.80" y="0" font-size="4.6" textLength="1.60" lengthAdjust="spacingAndGlyphs" fill="#ffffff" stroke="#ffffff" stroke-width="0.00" fill-opacity="0.75">*</text>
<text transform="translate(277.50,51.13)" x="-23.33" y="0" font-size="8.4" textLength="23.33" lengthAdjust="spacingAndGlyphs" fill="#231f20" stroke="#231f20" stroke-width="0.22" >GATA2</text>
<text transform="translate(287.44,61.15)" x="-22.45" y="0" font-size="8.4" textLength="22.45" lengthAdjust="spacingAndGlyphs" fill="#231f20" stroke="#231f20" stroke-width="0.22" >U2AF1</text>
<text transform="translate(297.38,71.16)" x="-30.38" y="0" font-size="8.4" textLength="30.38" lengthAdjust="spacingAndGlyphs" fill="#231f20" stroke="#231f20" stroke-width="0.22" >DNMT3A</text>
<text transform="translate(307.32,81.18)" x="-18.64" y="0" font-size="8.4" textLength="18.64" lengthAdjust="spacingAndGlyphs" fill="#231f20" stroke="#231f20" stroke-width="0.22" >NRAS</text>
<text transform="translate(317.26,91.19)" x="-16.50" y="0" font-size="8.4" textLength="16.50" lengthAdjust="spacingAndGlyphs" fill="#231f20" stroke="#231f20" stroke-width="0.22" >JAK2</text>
<text transform="translate(327.20,101.21)" x="-21.55" y="0" font-size="8.4" textLength="21.55" lengthAdjust="spacingAndGlyphs" fill="#231f20" stroke="#231f20" stroke-width="0.22" >ASXL2</text>
<text transform="translate(337.14,111.22)" x="-20.64" y="0" font-size="8.4" textLength="20.64" lengthAdjust="spacingAndGlyphs" fill="#231f20" stroke="#231f20" stroke-width="0.22" >SF3B1</text>
<text transform="translate(347.08,121.24)" x="-12.91" y="0" font-size="8.4" textLength="12.91" lengthAdjust="spacingAndGlyphs" fill="#231f20" stroke="#231f20" stroke-width="0.22" >CBL</text>
<text transform="translate(357.02,131.25)" x="-21.89" y="0" font-size="8.4" textLength="21.89" lengthAdjust="spacingAndGlyphs" fill="#231f20" stroke="#231f20" stroke-width="0.22" >ETNK1</text>
<text transform="translate(366.96,141.27)" x="-21.08" y="0" font-size="8.4" textLength="21.08" lengthAdjust="spacingAndGlyphs" fill="#231f20" stroke="#231f20" stroke-width="0.22" >PRPF8</text>
<text transform="translate(376.90,151.28)" x="-17.70" y="0" font-size="8.4" textLength="17.70" lengthAdjust="spacingAndGlyphs" fill="#231f20" stroke="#231f20" stroke-width="0.22" >KRAS</text>
<text transform="translate(386.84,161.30)" x="-23.71" y="0" font-size="8.4" textLength="23.71" lengthAdjust="spacingAndGlyphs" fill="#231f20" stroke="#231f20" stroke-width="0.22" >RUNX1</text>
<text transform="translate(396.78,171.31)" x="-22.36" y="0" font-size="8.4" textLength="22.36" lengthAdjust="spacingAndGlyphs" fill="#231f20" stroke="#231f20" stroke-width="0.22" >STAG2</text>
<text transform="translate(406.72,181.33)" x="-17.90" y="0" font-size="8.4" textLength="17.90" lengthAdjust="spacingAndGlyphs" fill="#231f20" stroke="#231f20" stroke-width="0.22" >EZH2</text>
<text transform="translate(416.66,191.34)" x="-16.19" y="0" font-size="8.4" textLength="16.19" lengthAdjust="spacingAndGlyphs" fill="#231f20" stroke="#231f20" stroke-width="0.22" >TET2</text>
<text transform="translate(426.60,201.36)" x="-21.55" y="0" font-size="8.4" textLength="21.55" lengthAdjust="spacingAndGlyphs" fill="#231f20" stroke="#231f20" stroke-width="0.22" >ASXL1</text>
<text transform="translate(436.54,211.37)" x="-21.15" y="0" font-size="8.4" textLength="21.15" lengthAdjust="spacingAndGlyphs" fill="#231f20" stroke="#231f20" stroke-width="0.22" >CSF3R</text>
<text transform="translate(446.48,221.39)" x="-18.72" y="0" font-size="8.4" textLength="18.72" lengthAdjust="spacingAndGlyphs" fill="#231f20" stroke="#231f20" stroke-width="0.22" >CUX1</text>
<text transform="translate(456.42,231.40)" x="-20.44" y="0" font-size="8.4" textLength="20.44" lengthAdjust="spacingAndGlyphs" fill="#231f20" stroke="#231f20" stroke-width="0.22" >SRSF2</text>
<text transform="translate(466.36,241.42)" x="-26.28" y="0" font-size="8.4" textLength="26.28" lengthAdjust="spacingAndGlyphs" fill="#231f20" stroke="#231f20" stroke-width="0.22" >PTPN11</text>
<text transform="translate(289.49,39.60) rotate(-90.00)" x="0.00" y="0" font-size="8.4" textLength="21.62" lengthAdjust="spacingAndGlyphs" fill="#231f20" stroke="#231f20" stroke-width="0.22" >U2AF1</text>
<text transform="translate(299.43,39.60) rotate(-90.00)" x="0.00" y="0" font-size="8.4" textLength="29.25" lengthAdjust="spacingAndGlyphs" fill="#231f20" stroke="#231f20" stroke-width="0.22" >DNMT3A</text>
<text transform="translate(309.37,39.60) rotate(-90.00)" x="0.00" y="0" font-size="8.4" textLength="17.95" lengthAdjust="spacingAndGlyphs" fill="#231f20" stroke="#231f20" stroke-width="0.22" >NRAS</text>
<text transform="translate(319.31,39.60) rotate(-90.00)" x="0.00" y="0" font-size="8.4" textLength="15.89" lengthAdjust="spacingAndGlyphs" fill="#231f20" stroke="#231f20" stroke-width="0.22" >JAK2</text>
<text transform="translate(329.25,39.60) rotate(-90.00)" x="0.00" y="0" font-size="8.4" textLength="20.76" lengthAdjust="spacingAndGlyphs" fill="#231f20" stroke="#231f20" stroke-width="0.22" >ASXL2</text>
<text transform="translate(339.19,39.60) rotate(-90.00)" x="0.00" y="0" font-size="8.4" textLength="19.87" lengthAdjust="spacingAndGlyphs" fill="#231f20" stroke="#231f20" stroke-width="0.22" >SF3B1</text>
<text transform="translate(349.13,39.60) rotate(-90.00)" x="0.00" y="0" font-size="8.4" textLength="12.43" lengthAdjust="spacingAndGlyphs" fill="#231f20" stroke="#231f20" stroke-width="0.22" >CBL</text>
<text transform="translate(359.07,39.60) rotate(-90.00)" x="0.00" y="0" font-size="8.4" textLength="21.08" lengthAdjust="spacingAndGlyphs" fill="#231f20" stroke="#231f20" stroke-width="0.22" >ETNK1</text>
<text transform="translate(369.01,39.60) rotate(-90.00)" x="0.00" y="0" font-size="8.4" textLength="20.30" lengthAdjust="spacingAndGlyphs" fill="#231f20" stroke="#231f20" stroke-width="0.22" >PRPF8</text>
<text transform="translate(378.95,39.60) rotate(-90.00)" x="0.00" y="0" font-size="8.4" textLength="17.04" lengthAdjust="spacingAndGlyphs" fill="#231f20" stroke="#231f20" stroke-width="0.22" >KRAS</text>
<text transform="translate(388.89,39.60) rotate(-90.00)" x="0.00" y="0" font-size="8.4" textLength="22.83" lengthAdjust="spacingAndGlyphs" fill="#231f20" stroke="#231f20" stroke-width="0.22" >RUNX1</text>
<text transform="translate(398.83,39.60) rotate(-90.00)" x="0.00" y="0" font-size="8.4" textLength="21.54" lengthAdjust="spacingAndGlyphs" fill="#231f20" stroke="#231f20" stroke-width="0.22" >STAG2</text>
<text transform="translate(408.77,39.60) rotate(-90.00)" x="0.00" y="0" font-size="8.4" textLength="17.24" lengthAdjust="spacingAndGlyphs" fill="#231f20" stroke="#231f20" stroke-width="0.22" >EZH2</text>
<text transform="translate(418.71,39.60) rotate(-90.00)" x="0.00" y="0" font-size="8.4" textLength="15.59" lengthAdjust="spacingAndGlyphs" fill="#231f20" stroke="#231f20" stroke-width="0.22" >TET2</text>
<text transform="translate(428.65,39.60) rotate(-90.00)" x="0.00" y="0" font-size="8.4" textLength="20.76" lengthAdjust="spacingAndGlyphs" fill="#231f20" stroke="#231f20" stroke-width="0.22" >ASXL1</text>
<text transform="translate(438.59,39.60) rotate(-90.00)" x="0.00" y="0" font-size="8.4" textLength="20.37" lengthAdjust="spacingAndGlyphs" fill="#231f20" stroke="#231f20" stroke-width="0.22" >CSF3R</text>
<text transform="translate(448.53,39.60) rotate(-90.00)" x="0.00" y="0" font-size="8.4" textLength="18.03" lengthAdjust="spacingAndGlyphs" fill="#231f20" stroke="#231f20" stroke-width="0.22" >CUX1</text>
<text transform="translate(458.47,39.60) rotate(-90.00)" x="0.00" y="0" font-size="8.4" textLength="19.69" lengthAdjust="spacingAndGlyphs" fill="#231f20" stroke="#231f20" stroke-width="0.22" >SRSF2</text>
<text transform="translate(468.41,39.60) rotate(-90.00)" x="0.00" y="0" font-size="8.4" textLength="25.31" lengthAdjust="spacingAndGlyphs" fill="#231f20" stroke="#231f20" stroke-width="0.22" >PTPN11</text>
<text transform="translate(478.35,39.60) rotate(-90.00)" x="0.00" y="0" font-size="8.4" textLength="23.94" lengthAdjust="spacingAndGlyphs" fill="#231f20" stroke="#231f20" stroke-width="0.22" >SETBP1</text>
<rect x="482.30" y="43.70" width="8.2" height="25.25" fill="#C4553D"/>
<rect x="482.30" y="68.35" width="8.2" height="25.25" fill="#D27A52"/>
<rect x="482.30" y="93.00" width="8.2" height="25.25" fill="#E8A565"/>
<rect x="482.30" y="117.65" width="8.2" height="25.25" fill="#F8DA98"/>
<rect x="482.30" y="142.30" width="8.2" height="25.25" fill="#EEF1F3"/>
<rect x="482.30" y="166.95" width="8.2" height="25.25" fill="#B0D3E3"/>
<rect x="482.30" y="191.60" width="8.2" height="25.25" fill="#76ABD3"/>
<rect x="482.30" y="216.25" width="8.2" height="25.25" fill="#4A7EB9"/>
<rect x="482.30" y="43.70" width="8.2" height="197.20" fill="none" stroke="#231f20" stroke-width="0.9"/>
<line x1="490.50" y1="43.70" x2="493.50" y2="43.70" stroke="#231f20" stroke-width="0.9"/>
<text transform="translate(496.30,46.29)" x="0.00" y="0" font-size="7.2" textLength="11.49" lengthAdjust="spacingAndGlyphs" fill="#231f20" stroke="#231f20" stroke-width="0.12" >3.19</text>
<line x1="490.50" y1="68.35" x2="493.50" y2="68.35" stroke="#231f20" stroke-width="0.9"/>
<text transform="translate(496.30,70.94)" x="0.00" y="0" font-size="7.2" textLength="11.49" lengthAdjust="spacingAndGlyphs" fill="#231f20" stroke="#231f20" stroke-width="0.12" >2.47</text>
<line x1="490.50" y1="93.00" x2="493.50" y2="93.00" stroke="#231f20" stroke-width="0.9"/>
<text transform="translate(496.30,95.59)" x="0.00" y="0" font-size="7.2" textLength="11.49" lengthAdjust="spacingAndGlyphs" fill="#231f20" stroke="#231f20" stroke-width="0.12" >1.75</text>
<line x1="490.50" y1="117.65" x2="493.50" y2="117.65" stroke="#231f20" stroke-width="0.9"/>
<text transform="translate(496.30,120.24)" x="0.00" y="0" font-size="7.2" textLength="11.49" lengthAdjust="spacingAndGlyphs" fill="#231f20" stroke="#231f20" stroke-width="0.12" >1.03</text>
<line x1="490.50" y1="142.30" x2="493.50" y2="142.30" stroke="#231f20" stroke-width="0.9"/>
<text transform="translate(496.30,144.89)" x="0.00" y="0" font-size="7.2" textLength="11.49" lengthAdjust="spacingAndGlyphs" fill="#231f20" stroke="#231f20" stroke-width="0.12" >0.31</text>
<line x1="490.50" y1="166.95" x2="493.50" y2="166.95" stroke="#231f20" stroke-width="0.9"/>
<text transform="translate(496.30,169.54)" x="0.00" y="0" font-size="7.2" textLength="13.46" lengthAdjust="spacingAndGlyphs" fill="#231f20" stroke="#231f20" stroke-width="0.12" >-0.41</text>
<line x1="490.50" y1="191.60" x2="493.50" y2="191.60" stroke="#231f20" stroke-width="0.9"/>
<text transform="translate(496.30,194.19)" x="0.00" y="0" font-size="7.2" textLength="13.46" lengthAdjust="spacingAndGlyphs" fill="#231f20" stroke="#231f20" stroke-width="0.12" >-1.13</text>
<line x1="490.50" y1="216.25" x2="493.50" y2="216.25" stroke="#231f20" stroke-width="0.9"/>
<text transform="translate(496.30,218.84)" x="0.00" y="0" font-size="7.2" textLength="13.46" lengthAdjust="spacingAndGlyphs" fill="#231f20" stroke="#231f20" stroke-width="0.12" >-1.85</text>
<line x1="490.50" y1="240.90" x2="493.50" y2="240.90" stroke="#231f20" stroke-width="0.9"/>
<text transform="translate(496.30,243.49)" x="0.00" y="0" font-size="7.2" textLength="13.46" lengthAdjust="spacingAndGlyphs" fill="#231f20" stroke="#231f20" stroke-width="0.12" >-2.56</text>
<text transform="translate(287.60,164.80)" x="0.00" y="0" font-size="9.6" textLength="9.20" lengthAdjust="spacingAndGlyphs" fill="#231f20" stroke="#231f20" stroke-width="0.12" >***</text>
<text transform="translate(287.60,175.60)" x="0.00" y="0" font-size="9.6" textLength="6.00" lengthAdjust="spacingAndGlyphs" fill="#231f20" stroke="#231f20" stroke-width="0.12" >**</text>
<text transform="translate(287.80,186.80)" x="0.00" y="0" font-size="9.6" textLength="3.00" lengthAdjust="spacingAndGlyphs" fill="#231f20" stroke="#231f20" stroke-width="0.12" >*</text>
<text transform="translate(299.60,164.80)" x="0.00" y="0" font-size="7.3" textLength="30.80" lengthAdjust="spacingAndGlyphs" fill="#231f20" stroke="#231f20" stroke-width="0.12" >FDR &lt; .01</text>
<text transform="translate(299.00,175.20)" x="0.00" y="0" font-size="7.3" textLength="31.70" lengthAdjust="spacingAndGlyphs" fill="#231f20" stroke="#231f20" stroke-width="0.12" >FDR &lt; .05</text>
<text transform="translate(299.00,185.90)" x="0.00" y="0" font-size="7.3" textLength="26.00" lengthAdjust="spacingAndGlyphs" fill="#231f20" stroke="#231f20" stroke-width="0.12" >FDR &lt; .1</text>
<defs>
<clipPath id="c3R"><circle cx="47.8" cy="338.0" r="41.0"/></clipPath>
<clipPath id="c3B"><circle cx="87.6" cy="338.0" r="41.0"/></clipPath>
<clipPath id="c3G"><circle cx="68.7" cy="374.2" r="41.0"/></clipPath>
</defs>
<circle cx="47.8" cy="338.0" r="41.0" fill="#D8AAA0"/>
<circle cx="87.6" cy="338.0" r="41.0" fill="#B0AFCA"/>
<circle cx="68.7" cy="374.2" r="41.0" fill="#CFD8B4"/>
<g clip-path="url(#c3R)"><circle cx="87.6" cy="338.0" r="41.0" fill="#977F81"/></g>
<g clip-path="url(#c3R)"><circle cx="68.7" cy="374.2" r="41.0" fill="#B49C7E"/></g>
<g clip-path="url(#c3B)"><circle cx="68.7" cy="374.2" r="41.0" fill="#8E9690"/></g>
<g clip-path="url(#c3R)"><g clip-path="url(#c3B)"><circle cx="68.7" cy="374.2" r="41.0" fill="#7A6E62"/></g></g>
<circle cx="47.8" cy="338.0" r="41.0" fill="none" stroke="#A8283B" stroke-width="1.1"/>
<circle cx="87.6" cy="338.0" r="41.0" fill="none" stroke="#3D5A8E" stroke-width="1.1"/>
<circle cx="68.7" cy="374.2" r="41.0" fill="none" stroke="#5A9A3C" stroke-width="1.1"/>
<text transform="translate(24.80,332.10)" x="-4.41" y="0" font-size="8.2" textLength="8.82" lengthAdjust="spacingAndGlyphs" fill="#231f20" stroke="#231f20" stroke-width="0.22" >15</text>
<text transform="translate(24.80,340.70)" x="-6.53" y="0" font-size="6.4" textLength="13.06" lengthAdjust="spacingAndGlyphs" fill="#231f20" stroke="#231f20" stroke-width="0.08" >9.5%</text>
<text transform="translate(69.40,319.00)" x="-4.41" y="0" font-size="8.2" textLength="8.82" lengthAdjust="spacingAndGlyphs" fill="#231f20" stroke="#231f20" stroke-width="0.22" >30</text>
<text transform="translate(69.40,327.60)" x="-5.85" y="0" font-size="6.4" textLength="11.70" lengthAdjust="spacingAndGlyphs" fill="#231f20" stroke="#231f20" stroke-width="0.08" >19%</text>
<text transform="translate(109.80,332.00)" x="-2.21" y="0" font-size="8.2" textLength="4.41" lengthAdjust="spacingAndGlyphs" fill="#231f20" stroke="#231f20" stroke-width="0.22" >9</text>
<text transform="translate(109.80,340.60)" x="-6.53" y="0" font-size="6.4" textLength="13.06" lengthAdjust="spacingAndGlyphs" fill="#231f20" stroke="#231f20" stroke-width="0.08" >5.7%</text>
<text transform="translate(68.80,349.20)" x="-4.41" y="0" font-size="8.2" textLength="8.82" lengthAdjust="spacingAndGlyphs" fill="#231f20" stroke="#231f20" stroke-width="0.22" >54</text>
<text transform="translate(68.80,357.80)" x="-8.22" y="0" font-size="6.4" textLength="16.45" lengthAdjust="spacingAndGlyphs" fill="#231f20" stroke="#231f20" stroke-width="0.08" >34.2%</text>
<text transform="translate(41.00,361.60)" x="-4.41" y="0" font-size="8.2" textLength="8.82" lengthAdjust="spacingAndGlyphs" fill="#231f20" stroke="#231f20" stroke-width="0.22" >11</text>
<text transform="translate(41.00,370.20)" x="-4.15" y="0" font-size="6.4" textLength="8.31" lengthAdjust="spacingAndGlyphs" fill="#231f20" stroke="#231f20" stroke-width="0.08" >7%</text>
<text transform="translate(95.00,361.60)" x="-4.41" y="0" font-size="8.2" textLength="8.82" lengthAdjust="spacingAndGlyphs" fill="#231f20" stroke="#231f20" stroke-width="0.22" >16</text>
<text transform="translate(95.00,370.20)" x="-8.22" y="0" font-size="6.4" textLength="16.45" lengthAdjust="spacingAndGlyphs" fill="#231f20" stroke="#231f20" stroke-width="0.08" >10.1%</text>
<text transform="translate(68.80,391.00)" x="-2.21" y="0" font-size="8.2" textLength="4.41" lengthAdjust="spacingAndGlyphs" fill="#231f20" stroke="#231f20" stroke-width="0.22" >7</text>
<text transform="translate(68.80,399.60)" x="-6.53" y="0" font-size="6.4" textLength="13.06" lengthAdjust="spacingAndGlyphs" fill="#231f20" stroke="#231f20" stroke-width="0.08" >4.4%</text>
<text transform="translate(11.50,283.60)" x="0.00" y="0" font-size="9.0" textLength="33.40" lengthAdjust="spacingAndGlyphs" fill="#231f20" stroke="#231f20" stroke-width="0.12" >Signaling</text>
<text transform="translate(11.60,293.80)" x="0.00" y="0" font-size="9.0" textLength="33.20" lengthAdjust="spacingAndGlyphs" fill="#231f20" stroke="#231f20" stroke-width="0.12" >molecule</text>
<text transform="translate(77.20,288.90)" x="0.00" y="0" font-size="9.0" textLength="29.60" lengthAdjust="spacingAndGlyphs" fill="#231f20" stroke="#231f20" stroke-width="0.12" >ASXL1/2</text>
<text transform="translate(43.10,427.30)" x="0.00" y="0" font-size="9.0" textLength="51.20" lengthAdjust="spacingAndGlyphs" fill="#231f20" stroke="#231f20" stroke-width="0.12" >Splicing factor</text>
<defs>
<clipPath id="c4B"><path d="M157.34,355.16 L198.54,394.10 A26.0,26.0 0 0 0 235.30,357.34 L196.36,316.14 A27.6,27.6 0 1 0 157.34,355.16 Z"/></clipPath>
<clipPath id="c4R"><path d="M175.12,336.34 L216.12,375.58 A26.0,26.0 0 0 0 253.11,339.06 L214.38,297.57 A27.6,27.6 0 1 0 175.12,336.34 Z"/></clipPath>
<clipPath id="c4G"><path d="M213.82,297.57 L175.09,339.06 A26.0,26.0 0 0 0 212.08,375.58 L253.08,336.34 A27.6,27.6 0 1 0 213.82,297.57 Z"/></clipPath>
<clipPath id="c4Y"><path d="M231.84,316.14 L192.90,357.34 A26.0,26.0 0 0 0 229.66,394.10 L270.86,355.16 A27.6,27.6 0 1 0 231.84,316.14 Z"/></clipPath>
</defs>
<path d="M157.34,355.16 L198.54,394.10 A26.0,26.0 0 0 0 235.30,357.34 L196.36,316.14 A27.6,27.6 0 1 0 157.34,355.16 Z" fill="#B2B0CA"/>
<path d="M175.12,336.34 L216.12,375.58 A26.0,26.0 0 0 0 253.11,339.06 L214.38,297.57 A27.6,27.6 0 1 0 175.12,336.34 Z" fill="#DCAFA5"/>
<path d="M213.82,297.57 L175.09,339.06 A26.0,26.0 0 0 0 212.08,375.58 L253.08,336.34 A27.6,27.6 0 1 0 213.82,297.57 Z" fill="#D0D8B2"/>
<path d="M231.84,316.14 L192.90,357.34 A26.0,26.0 0 0 0 229.66,394.10 L270.86,355.16 A27.6,27.6 0 1 0 231.84,316.14 Z" fill="#F5E1BA"/>
<g clip-path="url(#c4B)"><path d="M175.12,336.34 L216.12,375.58 A26.0,26.0 0 0 0 253.11,339.06 L214.38,297.57 A27.6,27.6 0 1 0 175.12,336.34 Z" fill="#98807F"/></g>
<g clip-path="url(#c4R)"><path d="M213.82,297.57 L175.09,339.06 A26.0,26.0 0 0 0 212.08,375.58 L253.08,336.34 A27.6,27.6 0 1 0 213.82,297.57 Z" fill="#B49A7C"/></g>
<g clip-path="url(#c4G)"><path d="M231.84,316.14 L192.90,357.34 A26.0,26.0 0 0 0 229.66,394.10 L270.86,355.16 A27.6,27.6 0 1 0 231.84,316.14 Z" fill="#C8C38C"/></g>
<g clip-path="url(#c4B)"><path d="M213.82,297.57 L175.09,339.06 A26.0,26.0 0 0 0 212.08,375.58 L253.08,336.34 A27.6,27.6 0 1 0 213.82,297.57 Z" fill="#8E9690"/></g>
<g clip-path="url(#c4R)"><path d="M231.84,316.14 L192.90,357.34 A26.0,26.0 0 0 0 229.66,394.10 L270.86,355.16 A27.6,27.6 0 1 0 231.84,316.14 Z" fill="#D2A580"/></g>
<g clip-path="url(#c4B)"><path d="M231.84,316.14 L192.90,357.34 A26.0,26.0 0 0 0 229.66,394.10 L270.86,355.16 A27.6,27.6 0 1 0 231.84,316.14 Z" fill="#A59E91"/></g>
<g clip-path="url(#c4B)"><g clip-path="url(#c4R)"><path d="M213.82,297.57 L175.09,339.06 A26.0,26.0 0 0 0 212.08,375.58 L253.08,336.34 A27.6,27.6 0 1 0 213.82,297.57 Z" fill="#80766A"/></g></g>
<g clip-path="url(#c4R)"><g clip-path="url(#c4G)"><path d="M231.84,316.14 L192.90,357.34 A26.0,26.0 0 0 0 229.66,394.10 L270.86,355.16 A27.6,27.6 0 1 0 231.84,316.14 Z" fill="#AA8A64"/></g></g>
<g clip-path="url(#c4B)"><g clip-path="url(#c4G)"><path d="M231.84,316.14 L192.90,357.34 A26.0,26.0 0 0 0 229.66,394.10 L270.86,355.16 A27.6,27.6 0 1 0 231.84,316.14 Z" fill="#A8A27A"/></g></g>
<g clip-path="url(#c4B)"><g clip-path="url(#c4R)"><path d="M231.84,316.14 L192.90,357.34 A26.0,26.0 0 0 0 229.66,394.10 L270.86,355.16 A27.6,27.6 0 1 0 231.84,316.14 Z" fill="#9E7C6E"/></g></g>
<g clip-path="url(#c4B)"><g clip-path="url(#c4R)"><g clip-path="url(#c4G)"><path d="M231.84,316.14 L192.90,357.34 A26.0,26.0 0 0 0 229.66,394.10 L270.86,355.16 A27.6,27.6 0 1 0 231.84,316.14 Z" fill="#786852"/></g></g></g>
<path d="M157.34,355.16 L198.54,394.10 A26.0,26.0 0 0 0 235.30,357.34 L196.36,316.14 A27.6,27.6 0 1 0 157.34,355.16 Z" fill="none" stroke="#465C8C" stroke-width="1.1"/>
<path d="M175.12,336.34 L216.12,375.58 A26.0,26.0 0 0 0 253.11,339.06 L214.38,297.57 A27.6,27.6 0 1 0 175.12,336.34 Z" fill="none" stroke="#A8283B" stroke-width="1.1"/>
<path d="M213.82,297.57 L175.09,339.06 A26.0,26.0 0 0 0 212.08,375.58 L253.08,336.34 A27.6,27.6 0 1 0 213.82,297.57 Z" fill="none" stroke="#5E9C3F" stroke-width="1.1"/>
<path d="M231.84,316.14 L192.90,357.34 A26.0,26.0 0 0 0 229.66,394.10 L270.86,355.16 A27.6,27.6 0 1 0 231.84,316.14 Z" fill="none" stroke="#E3B23C" stroke-width="1.1"/>
<text transform="translate(194.30,296.90)" x="-4.10" y="0" font-size="7.4" textLength="8.21" lengthAdjust="spacingAndGlyphs" fill="#231f20" stroke="#231f20" stroke-width="0.22" >10</text>
<text transform="translate(194.30,304.30)" x="-6.33" y="0" font-size="6.0" textLength="12.67" lengthAdjust="spacingAndGlyphs" fill="#231f20" stroke="#231f20" stroke-width="0.08" >6.3%</text>
<text transform="translate(234.60,297.00)" x="-2.05" y="0" font-size="7.4" textLength="4.10" lengthAdjust="spacingAndGlyphs" fill="#231f20" stroke="#231f20" stroke-width="0.22" >4</text>
<text transform="translate(234.60,304.00)" x="-6.33" y="0" font-size="6.0" textLength="12.67" lengthAdjust="spacingAndGlyphs" fill="#231f20" stroke="#231f20" stroke-width="0.08" >2.5%</text>
<text transform="translate(160.50,332.30)" x="-2.05" y="0" font-size="7.4" textLength="4.10" lengthAdjust="spacingAndGlyphs" fill="#231f20" stroke="#231f20" stroke-width="0.22" >4</text>
<text transform="translate(160.50,339.80)" x="-6.33" y="0" font-size="6.0" textLength="12.67" lengthAdjust="spacingAndGlyphs" fill="#231f20" stroke="#231f20" stroke-width="0.08" >2.5%</text>
<text transform="translate(269.60,336.00)" x="-2.05" y="0" font-size="7.4" textLength="4.10" lengthAdjust="spacingAndGlyphs" fill="#231f20" stroke="#231f20" stroke-width="0.22" >2</text>
<text transform="translate(269.60,343.50)" x="-6.33" y="0" font-size="6.0" textLength="12.67" lengthAdjust="spacingAndGlyphs" fill="#231f20" stroke="#231f20" stroke-width="0.08" >1.3%</text>
<text transform="translate(177.40,315.80)" x="-4.10" y="0" font-size="7.4" textLength="8.21" lengthAdjust="spacingAndGlyphs" fill="#231f20" stroke="#231f20" stroke-width="0.22" >17</text>
<text transform="translate(177.40,322.60)" x="-7.97" y="0" font-size="6.0" textLength="15.95" lengthAdjust="spacingAndGlyphs" fill="#231f20" stroke="#231f20" stroke-width="0.08" >10.8%</text>
<text transform="translate(213.60,308.80)" x="-2.05" y="0" font-size="7.4" textLength="4.10" lengthAdjust="spacingAndGlyphs" fill="#231f20" stroke="#231f20" stroke-width="0.22" >3</text>
<text transform="translate(213.60,316.00)" x="-6.33" y="0" font-size="6.0" textLength="12.67" lengthAdjust="spacingAndGlyphs" fill="#231f20" stroke="#231f20" stroke-width="0.08" >1.9%</text>
<text transform="translate(251.10,315.80)" x="-2.05" y="0" font-size="7.4" textLength="4.10" lengthAdjust="spacingAndGlyphs" fill="#231f20" stroke="#231f20" stroke-width="0.22" >3</text>
<text transform="translate(251.10,322.40)" x="-6.33" y="0" font-size="6.0" textLength="12.67" lengthAdjust="spacingAndGlyphs" fill="#231f20" stroke="#231f20" stroke-width="0.08" >1.9%</text>
<text transform="translate(192.50,331.90)" x="-4.10" y="0" font-size="7.4" textLength="8.21" lengthAdjust="spacingAndGlyphs" fill="#231f20" stroke="#231f20" stroke-width="0.22" >29</text>
<text transform="translate(192.50,339.50)" x="-7.97" y="0" font-size="6.0" textLength="15.95" lengthAdjust="spacingAndGlyphs" fill="#231f20" stroke="#231f20" stroke-width="0.08" >18.4%</text>
<text transform="translate(235.40,329.80)" x="-2.05" y="0" font-size="7.4" textLength="4.10" lengthAdjust="spacingAndGlyphs" fill="#231f20" stroke="#231f20" stroke-width="0.22" >8</text>
<text transform="translate(235.40,337.00)" x="-6.33" y="0" font-size="6.0" textLength="12.67" lengthAdjust="spacingAndGlyphs" fill="#231f20" stroke="#231f20" stroke-width="0.08" >5.1%</text>
<text transform="translate(215.30,353.70)" x="-4.10" y="0" font-size="7.4" textLength="8.21" lengthAdjust="spacingAndGlyphs" fill="#231f20" stroke="#231f20" stroke-width="0.22" >25</text>
<text transform="translate(215.30,361.00)" x="-7.97" y="0" font-size="6.0" textLength="15.95" lengthAdjust="spacingAndGlyphs" fill="#231f20" stroke="#231f20" stroke-width="0.08" >15.8%</text>
<text transform="translate(177.00,356.00)" x="-2.05" y="0" font-size="7.4" textLength="4.10" lengthAdjust="spacingAndGlyphs" fill="#231f20" stroke="#231f20" stroke-width="0.22" >3</text>
<text transform="translate(177.00,363.50)" x="-6.33" y="0" font-size="6.0" textLength="12.67" lengthAdjust="spacingAndGlyphs" fill="#231f20" stroke="#231f20" stroke-width="0.08" >1.9%</text>
<text transform="translate(251.00,352.80)" x="-2.05" y="0" font-size="7.4" textLength="4.10" lengthAdjust="spacingAndGlyphs" fill="#231f20" stroke="#231f20" stroke-width="0.22" >5</text>
<text transform="translate(251.00,360.00)" x="-6.33" y="0" font-size="6.0" textLength="12.67" lengthAdjust="spacingAndGlyphs" fill="#231f20" stroke="#231f20" stroke-width="0.08" >3.2%</text>
<text transform="translate(195.70,372.00)" x="-4.10" y="0" font-size="7.4" textLength="8.21" lengthAdjust="spacingAndGlyphs" fill="#231f20" stroke="#231f20" stroke-width="0.22" >13</text>
<text transform="translate(195.70,379.00)" x="-6.33" y="0" font-size="6.0" textLength="12.67" lengthAdjust="spacingAndGlyphs" fill="#231f20" stroke="#231f20" stroke-width="0.08" >8.2%</text>
<text transform="translate(233.00,372.00)" x="-4.10" y="0" font-size="7.4" textLength="8.21" lengthAdjust="spacingAndGlyphs" fill="#231f20" stroke="#231f20" stroke-width="0.22" >13</text>
<text transform="translate(233.00,379.00)" x="-6.33" y="0" font-size="6.0" textLength="12.67" lengthAdjust="spacingAndGlyphs" fill="#231f20" stroke="#231f20" stroke-width="0.08" >8.2%</text>
<text transform="translate(214.90,387.80)" x="-2.05" y="0" font-size="7.4" textLength="4.10" lengthAdjust="spacingAndGlyphs" fill="#231f20" stroke="#231f20" stroke-width="0.22" >5</text>
<text transform="translate(214.90,395.00)" x="-6.33" y="0" font-size="6.0" textLength="12.67" lengthAdjust="spacingAndGlyphs" fill="#231f20" stroke="#231f20" stroke-width="0.08" >3.2%</text>
<text transform="translate(153.00,297.60) rotate(-45.00)" x="0.00" y="0" font-size="9.0" textLength="33.00" lengthAdjust="spacingAndGlyphs" fill="#231f20" stroke="#231f20" stroke-width="0.12" >Signaling</text>
<text transform="translate(161.00,304.00) rotate(-45.00)" x="0.00" y="0" font-size="9.0" textLength="33.00" lengthAdjust="spacingAndGlyphs" fill="#231f20" stroke="#231f20" stroke-width="0.12" >molecule</text>
<text transform="translate(247.40,274.60) rotate(45.00)" x="0.00" y="0" font-size="9.0" textLength="28.80" lengthAdjust="spacingAndGlyphs" fill="#231f20" stroke="#231f20" stroke-width="0.12" >Splicing</text>
<text transform="translate(243.40,284.40) rotate(45.00)" x="0.00" y="0" font-size="9.0" textLength="21.50" lengthAdjust="spacingAndGlyphs" fill="#231f20" stroke="#231f20" stroke-width="0.12" >factor</text>
<text transform="translate(179.00,394.60) rotate(45.00)" x="0.00" y="0" font-size="9.0" textLength="19.50" lengthAdjust="spacingAndGlyphs" fill="#231f20" stroke="#231f20" stroke-width="0.12" >TET2/</text>
<text transform="translate(170.00,401.60) rotate(45.00)" x="0.00" y="0" font-size="9.0" textLength="23.50" lengthAdjust="spacingAndGlyphs" fill="#231f20" stroke="#231f20" stroke-width="0.12" >GATA2</text>
<text transform="translate(240.60,407.00) rotate(-45.00)" x="0.00" y="0" font-size="9.0" textLength="30.00" lengthAdjust="spacingAndGlyphs" fill="#231f20" stroke="#231f20" stroke-width="0.12" >ASXL1/2</text>
<g style="isolation:isolate">
<circle cx="377.0" cy="325.8" r="42.8" fill="#F1EEEE" style="mix-blend-mode:multiply"/>
<circle cx="418.4" cy="325.8" r="42.8" fill="#F1EEEE" style="mix-blend-mode:multiply"/>
<circle cx="399.0" cy="362.8" r="42.8" fill="#F1EEEE" style="mix-blend-mode:multiply"/>
</g>
<circle cx="377.0" cy="325.8" r="42.8" fill="none" stroke="#A8283B" stroke-width="1.15"/>
<circle cx="418.4" cy="325.8" r="42.8" fill="none" stroke="#3D5A8E" stroke-width="1.15"/>
<circle cx="399.0" cy="362.8" r="42.8" fill="none" stroke="#5E9C3F" stroke-width="1.15"/>
<text transform="translate(313.00,282.30)" x="0.00" y="0" font-size="9.0" textLength="33.40" lengthAdjust="spacingAndGlyphs" fill="#231f20" stroke="#231f20" stroke-width="0.12" >Signaling</text>
<text transform="translate(313.00,291.40)" x="0.00" y="0" font-size="9.0" textLength="33.20" lengthAdjust="spacingAndGlyphs" fill="#231f20" stroke="#231f20" stroke-width="0.12" >molecule</text>
<text transform="translate(447.30,282.00)" x="0.00" y="0" font-size="9.0" textLength="38.00" lengthAdjust="spacingAndGlyphs" fill="#231f20" stroke="#231f20" stroke-width="0.12" >Epigenetic</text>
<text transform="translate(450.50,291.30)" x="0.00" y="0" font-size="9.0" textLength="33.00" lengthAdjust="spacingAndGlyphs" fill="#231f20" stroke="#231f20" stroke-width="0.12" >regulator</text>
<text transform="translate(373.00,417.20)" x="0.00" y="0" font-size="9.0" textLength="51.20" lengthAdjust="spacingAndGlyphs" fill="#231f20" stroke="#231f20" stroke-width="0.12" >Splicing factor</text>
<text transform="translate(350.00,314.00)" x="-2.10" y="0" font-size="4.8" textLength="4.20" lengthAdjust="spacingAndGlyphs" fill="#4a4a4a" stroke="#4a4a4a" stroke-width="0.10" >ET</text>
<text transform="translate(350.00,320.50)" x="-2.32" y="0" font-size="4.8" textLength="4.63" lengthAdjust="spacingAndGlyphs" fill="#4a4a4a" stroke="#4a4a4a" stroke-width="0.10" >PV</text>
<text transform="translate(350.00,327.00)" x="-2.74" y="0" font-size="4.8" textLength="5.49" lengthAdjust="spacingAndGlyphs" fill="#4a4a4a" stroke="#4a4a4a" stroke-width="0.10" >MF</text>
<text transform="translate(398.00,300.00)" x="-4.36" y="0" font-size="4.8" textLength="8.73" lengthAdjust="spacingAndGlyphs" fill="#4a4a4a" stroke="#4a4a4a" stroke-width="0.10" >CNL/</text>
<text transform="translate(398.00,305.60)" x="-5.70" y="0" font-size="4.8" textLength="11.39" lengthAdjust="spacingAndGlyphs" fill="#4a4a4a" stroke="#4a4a4a" stroke-width="0.10" >aCML/</text>
<text transform="translate(398.00,311.20)" x="-11.89" y="0" font-size="4.8" textLength="23.79" lengthAdjust="spacingAndGlyphs" fill="#4a4a4a" stroke="#4a4a4a" stroke-width="0.10" >MDS/MPN-U/</text>
<text transform="translate(398.00,316.80)" x="-5.65" y="0" font-size="4.8" textLength="11.30" lengthAdjust="spacingAndGlyphs" fill="#4a4a4a" stroke="#4a4a4a" stroke-width="0.10" >CMML</text>
<text transform="translate(460.00,318.00)" x="-10.46" y="0" font-size="4.8" textLength="20.91" lengthAdjust="spacingAndGlyphs" fill="#4a4a4a" stroke="#4a4a4a" stroke-width="0.10" >Age-related</text>
<text transform="translate(460.00,324.50)" x="-13.03" y="0" font-size="4.8" textLength="26.06" lengthAdjust="spacingAndGlyphs" fill="#4a4a4a" stroke="#4a4a4a" stroke-width="0.10" >hematopoiesis</text>
<text transform="translate(399.00,335.00)" x="-10.51" y="0" font-size="4.8" textLength="21.02" lengthAdjust="spacingAndGlyphs" fill="#4a4a4a" stroke="#4a4a4a" stroke-width="0.10" >CNL/ aCML/</text>
<text transform="translate(399.00,340.60)" x="-11.89" y="0" font-size="4.8" textLength="23.79" lengthAdjust="spacingAndGlyphs" fill="#4a4a4a" stroke="#4a4a4a" stroke-width="0.10" >MDS/MPN-U/</text>
<text transform="translate(399.00,346.20)" x="-5.65" y="0" font-size="4.8" textLength="11.30" lengthAdjust="spacingAndGlyphs" fill="#4a4a4a" stroke="#4a4a4a" stroke-width="0.10" >CMML</text>
<text transform="translate(371.00,344.00)" x="-4.36" y="0" font-size="4.8" textLength="8.73" lengthAdjust="spacingAndGlyphs" fill="#4a4a4a" stroke="#4a4a4a" stroke-width="0.10" >CNL/</text>
<text transform="translate(371.00,349.60)" x="-5.70" y="0" font-size="4.8" textLength="11.39" lengthAdjust="spacingAndGlyphs" fill="#4a4a4a" stroke="#4a4a4a" stroke-width="0.10" >aCML/</text>
<text transform="translate(371.00,355.20)" x="-11.89" y="0" font-size="4.8" textLength="23.79" lengthAdjust="spacingAndGlyphs" fill="#4a4a4a" stroke="#4a4a4a" stroke-width="0.10" >MDS/MPN-U/</text>
<text transform="translate(371.00,360.80)" x="-5.65" y="0" font-size="4.8" textLength="11.30" lengthAdjust="spacingAndGlyphs" fill="#4a4a4a" stroke="#4a4a4a" stroke-width="0.10" >CMML</text>
<text transform="translate(423.00,342.00)" x="-4.17" y="0" font-size="4.8" textLength="8.34" lengthAdjust="spacingAndGlyphs" fill="#4a4a4a" stroke="#4a4a4a" stroke-width="0.10" >MDS</text>
<text transform="translate(423.00,347.60)" x="-4.36" y="0" font-size="4.8" textLength="8.73" lengthAdjust="spacingAndGlyphs" fill="#4a4a4a" stroke="#4a4a4a" stroke-width="0.10" >CNL/</text>
<text transform="translate(423.00,353.20)" x="-5.70" y="0" font-size="4.8" textLength="11.39" lengthAdjust="spacingAndGlyphs" fill="#4a4a4a" stroke="#4a4a4a" stroke-width="0.10" >aCML/</text>
<text transform="translate(423.00,358.80)" x="-11.89" y="0" font-size="4.8" textLength="23.79" lengthAdjust="spacingAndGlyphs" fill="#4a4a4a" stroke="#4a4a4a" stroke-width="0.10" >MDS/MPN-U/</text>
<text transform="translate(423.00,364.40)" x="-5.65" y="0" font-size="4.8" textLength="11.30" lengthAdjust="spacingAndGlyphs" fill="#4a4a4a" stroke="#4a4a4a" stroke-width="0.10" >CMML</text>
<text transform="translate(399.00,381.00)" x="-4.17" y="0" font-size="4.8" textLength="8.34" lengthAdjust="spacingAndGlyphs" fill="#4a4a4a" stroke="#4a4a4a" stroke-width="0.10" >MDS</text>
</g>
<rect x="0" y="0" width="520" height="1" fill="#000"/>
<rect x="0" y="0" width="1.4" height="438" fill="#111"/>
<rect x="518.2" y="0" width="1.8" height="438" fill="#4a4a4a"/>
<rect x="33" y="436.2" width="487" height="1.8" fill="#4a4a4a"/>
</svg></body></html>
